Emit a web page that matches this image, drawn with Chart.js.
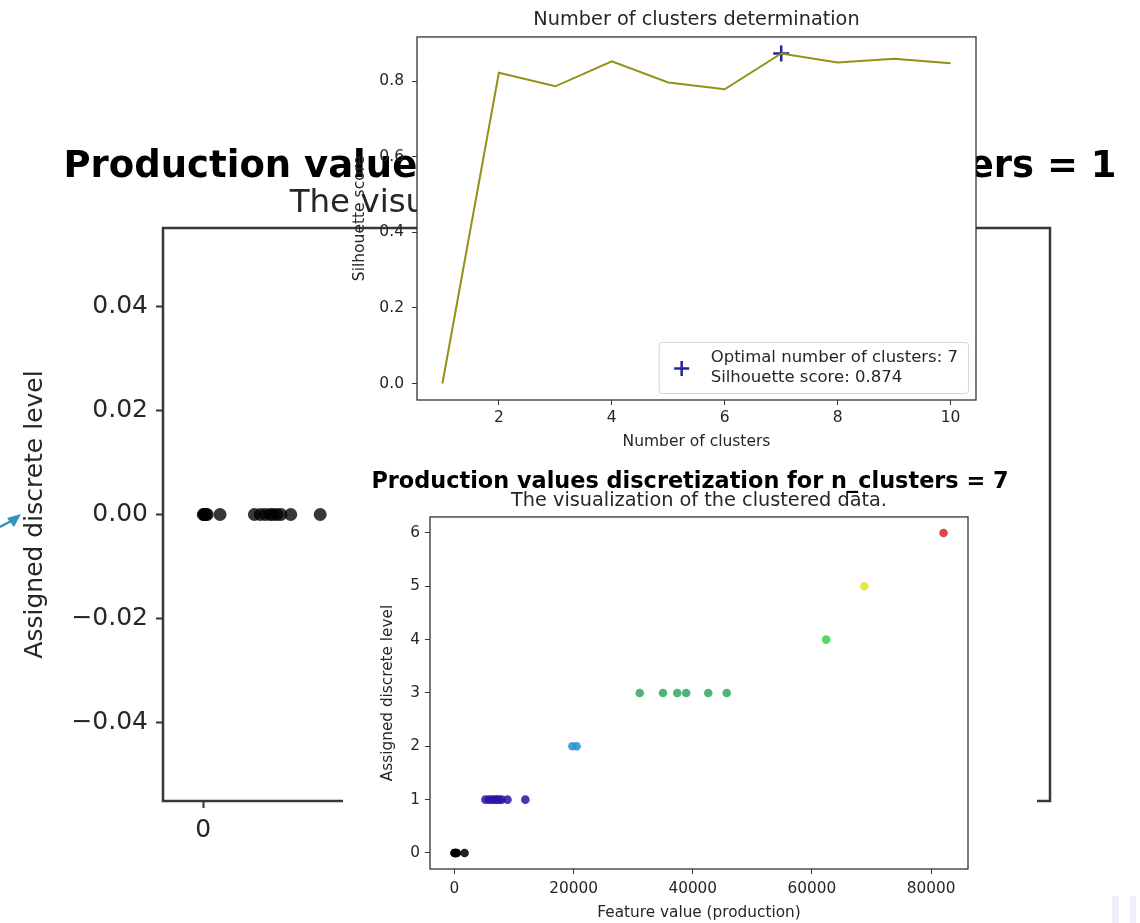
<!DOCTYPE html>
<html>
<head>
<meta charset="utf-8">
<title>Production values discretization</title>
<script src="https://cdn.jsdelivr.net/npm/chart.js@4.4.1/dist/chart.umd.min.js"></script>
<style>
	html, body { margin: 0; padding: 0; background: #fff; }
	body { position: relative; width: 1140px; height: 923px; overflow: hidden; }
	canvas, svg, .fade { position: absolute; }
	#flatChart { left: 0; top: 0; z-index: 1; }
	#levelChart { left: 343px; top: 455px; z-index: 2; background: #fff; }
	#scoreChart { left: 330px; top: 0; z-index: 3; }
	#pointer { left: 0; top: 508px; z-index: 4; }
	.fade { top: 896px; height: 27px; background: #eef2f8; }
</style>
</head>
<body>
<canvas id="flatChart" width="1180" height="923"></canvas>
<canvas id="levelChart" width="694" height="468"></canvas>
<canvas id="scoreChart" width="680" height="460"></canvas>
<svg id="pointer" width="24" height="22">
	<path d="M0 19 L11 13" stroke="#2f93bd" stroke-width="2.5" fill="none"/>
	<polygon points="21,6 7,10 14,19" fill="#2f93bd"/>
</svg>
<div class="fade" style="left:1112px;width:7px"></div>
<div class="fade" style="left:1130px;width:6px"></div>
<script>
// silhouette scan
const clusterCounts = [1, 2, 3, 4, 5, 6, 7, 8, 9, 10];
const silhouetteScores = [0.0, 0.823, 0.787, 0.853, 0.797, 0.779, 0.874, 0.850, 0.860, 0.848];
const optimalClusters = 7;
const optimalScore = 0.874;
const clusterTicks = [2, 4, 6, 8, 10];
const scoreTicks = [0.0, 0.2, 0.4, 0.6, 0.8];

// production values and the level each one was given (7 clusters)
const productionValues = [0, 60, 150, 260, 400, 1700, 5200, 5800, 6300, 6800, 7100, 7500, 7900, 8900, 11900,
	19800, 20500, 31100, 35000, 37400, 38900, 42600, 45700, 62400, 68800, 82100];
const assignedLevels = [0, 0, 0, 0, 0, 0, 1, 1, 1, 1, 1, 1, 1, 1, 1, 2, 2, 3, 3, 3, 3, 3, 3, 4, 5, 6];
const levelColors = ['#000000', '#3215a4', '#2a92d2', '#35a862', '#3cd63c', '#e6e22c', '#d42c2c'];
const productionTicks = [0, 20000, 40000, 60000, 80000];
const levelTicks = [0, 1, 2, 3, 4, 5, 6];
const flatTicks = [-0.04, -0.02, 0, 0.02, 0.04];

Chart.defaults.font.family = "'DejaVu Sans', sans-serif";
Chart.defaults.color = '#262626';

// white axes face + full box around the plot area
const framePlugin = {
	id: 'frame',
	beforeDraw(chart, args, opts) {
		if(!opts.face) return;
		const a = chart.chartArea;
		chart.ctx.save();
		chart.ctx.fillStyle = opts.face;
		chart.ctx.fillRect(a.left, a.top, a.width, a.height);
		chart.ctx.restore();
	},
	afterDatasetsDraw(chart, args, opts) {
		const a = chart.chartArea;
		const ctx = chart.ctx;
		ctx.save();
		ctx.strokeStyle = opts.color || '#333';
		ctx.lineWidth = opts.width || 1.3;
		ctx.strokeRect(a.left, a.top, a.width, a.height);
		ctx.restore();
	}
};

// matplotlib style legend in the lower right corner
const insetLegend = {
	id: 'insetLegend',
	afterDraw(chart, args, opts) {
		const ctx = chart.ctx;
		const a = chart.chartArea;
		ctx.save();
		ctx.font = opts.size + "px 'DejaVu Sans'";
		const tw = Math.max(...opts.lines.map(t => ctx.measureText(t).width));
		const lh = 20;
		const w = 52 + tw + 10;
		const h = lh * opts.lines.length + 11;
		const x = a.right - 8 - w;
		const y = a.bottom - 7 - h;
		ctx.fillStyle = 'rgba(255,255,255,0.85)';
		ctx.strokeStyle = '#d6d6d6';
		ctx.lineWidth = 1;
		ctx.beginPath();
		ctx.roundRect(x + 0.5, y + 0.5, w, h, 3);
		ctx.fill();
		ctx.stroke();
		const mx = x + 23, my = y + h / 2 + 1, r = 7.5;
		ctx.strokeStyle = opts.markerColor;
		ctx.lineWidth = 2.5;
		ctx.beginPath();
		ctx.moveTo(mx - r, my); ctx.lineTo(mx + r, my);
		ctx.moveTo(mx, my - r); ctx.lineTo(mx, my + r);
		ctx.stroke();
		ctx.fillStyle = '#262626';
		ctx.textBaseline = 'middle';
		opts.lines.forEach((t, i) => ctx.fillText(t, x + 52, y + 5.5 + lh * (i + 0.5)));
		ctx.restore();
	}
};

function fixedTicks(list) {
	return function(scale) {
		scale.ticks = list.map(v => ({value: v}));
	};
}

function tickGrid(len, width) {
	return {display: true, drawOnChartArea: false, drawTicks: true, tickLength: len, tickColor: '#333', tickWidth: width};
}

function spacer(w) {
	return {
		position: 'right', display: true,
		grid: {display: false}, border: {display: false}, ticks: {display: false},
		afterFit: s => { s.width = w; }
	};
}

// big background chart: n_clusters = 1
new Chart(document.getElementById('flatChart'), {
	type: 'scatter',
	data: {
		datasets: [{
			data: productionValues.map(v => ({x: v, y: 0})),
			pointRadius: 6.5,
			pointBackgroundColor: 'rgba(0,0,0,0.78)',
			pointBorderWidth: 0
		}]
	},
	options: {
		responsive: false,
		animation: false,
		layout: {padding: 0},
		plugins: {
			legend: {display: false},
			tooltip: {enabled: false},
			title: {
				display: true,
				text: 'Production values discretization for n_clusters = 1',
				color: '#000',
				font: {size: 37, weight: 'bold', lineHeight: 1},
				padding: {top: 148.5, bottom: 0}
			},
			subtitle: {
				display: true,
				fullSize: false,
				text: 'The visualization of the clustered data.',
				color: '#262626',
				font: {size: 32.5, lineHeight: 1},
				padding: {top: 2, bottom: 8}
			},
			frame: {color: '#383838', width: 2.5}
		},
		scales: {
			x: {
				type: 'linear',
				min: -4105,
				max: 86205,
				grid: tickGrid(7, 2),
				border: {display: false},
				ticks: {font: {size: 25}, padding: 7, maxRotation: 0, autoSkip: false, callback: v => String(v)},
				afterBuildTicks: fixedTicks(productionTicks),
				afterFit: s => { s.height = 122; }
			},
			y: {
				min: -0.055,
				max: 0.055,
				grid: tickGrid(7, 2),
				border: {display: false},
				ticks: {
					font: {size: 25},
					padding: 8,
					callback: v => (Math.abs(v) < 1e-9 ? 0 : v).toFixed(2).replace('-', '\u2212')
				},
				afterBuildTicks: fixedTicks(flatTicks),
				title: {display: true, text: 'Assigned discrete level', font: {size: 25}, padding: {top: 20, bottom: 0}},
				afterFit: s => { s.width = 163; }
			},
			y2: spacer(130)
		}
	},
	plugins: [framePlugin]
});

// lower inset: n_clusters = 7
new Chart(document.getElementById('levelChart'), {
	type: 'scatter',
	data: {
		datasets: [{
			data: productionValues.map((v, i) => ({x: v, y: assignedLevels[i]})),
			pointRadius: 4.3,
			pointBackgroundColor: assignedLevels.map(l => levelColors[l] + 'dd'),
			pointBorderWidth: 0
		}]
	},
	options: {
		responsive: false,
		animation: false,
		layout: {padding: 0},
		plugins: {
			legend: {display: false},
			tooltip: {enabled: false},
			title: {
				display: true,
				text: 'Production values discretization for n_clusters = 7',
				color: '#000',
				font: {size: 22.4, weight: 'bold', lineHeight: 0.9},
				padding: {top: 16.9, bottom: 0}
			},
			subtitle: {
				display: true,
				fullSize: false,
				text: 'The visualization of the clustered data.',
				color: '#262626',
				font: {size: 19.3, lineHeight: 0.9},
				padding: {top: 0.2, bottom: 7.3}
			},
			frame: {color: '#333', width: 1.3}
		},
		scales: {
			x: {
				type: 'linear',
				min: -4105,
				max: 86205,
				grid: tickGrid(5, 1),
				border: {display: false},
				ticks: {font: {size: 15.3}, padding: 6, maxRotation: 0, autoSkip: false, callback: v => String(v)},
				afterBuildTicks: fixedTicks(productionTicks),
				title: {display: true, text: 'Feature value (production)', font: {size: 15.3}, padding: {top: 0, bottom: 1}},
				afterFit: s => { s.height = 54; }
			},
			y: {
				min: -0.3,
				max: 6.3,
				grid: tickGrid(5, 1),
				border: {display: false},
				ticks: {font: {size: 15.3}, padding: 5, callback: v => String(v)},
				afterBuildTicks: fixedTicks(levelTicks),
				title: {display: true, text: 'Assigned discrete level', font: {size: 15.3}, padding: {top: 36, bottom: 0}},
				afterFit: s => { s.width = 87; }
			},
			y2: spacer(69)
		}
	},
	plugins: [framePlugin]
});

// upper inset: silhouette score per number of clusters
new Chart(document.getElementById('scoreChart'), {
	type: 'line',
	data: {
		datasets: [{
			data: clusterCounts.map((k, i) => ({x: k, y: silhouetteScores[i]})),
			borderColor: '#929214',
			borderWidth: 2,
			pointRadius: 0,
			tension: 0
		}, {
			type: 'scatter',
			data: [{x: optimalClusters, y: optimalScore}],
			showLine: false,
			pointStyle: 'cross',
			pointRadius: 8,
			pointBorderWidth: 2.5,
			pointBorderColor: '#25259a'
		}]
	},
	options: {
		responsive: false,
		animation: false,
		layout: {padding: {right: 34}},
		plugins: {
			legend: {display: false},
			tooltip: {enabled: false},
			title: {
				display: true,
				fullSize: false,
				text: 'Number of clusters determination',
				color: '#262626',
				font: {size: 19.3, weight: 'normal', lineHeight: 1},
				padding: {top: 10.6, bottom: 7.05}
			},
			frame: {face: '#fff', color: '#333', width: 1.3},
			insetLegend: {
				size: 16.5,
				markerColor: '#25259a',
				lines: ['Optimal number of clusters: ' + optimalClusters, 'Silhouette score: ' + optimalScore.toFixed(3)]
			}
		},
		scales: {
			x: {
				type: 'linear',
				min: 0.55,
				max: 10.45,
				grid: tickGrid(5, 1),
				border: {display: false},
				ticks: {font: {size: 15.5}, padding: 4, maxRotation: 0, autoSkip: false, callback: v => String(v)},
				afterBuildTicks: fixedTicks(clusterTicks),
				title: {display: true, text: 'Number of clusters', font: {size: 15.5}, padding: {top: 0, bottom: 8.4}},
				afterFit: s => { s.height = 60; }
			},
			y: {
				min: -0.0437,
				max: 0.9177,
				grid: tickGrid(5, 1),
				border: {display: false},
				ticks: {font: {size: 15.5}, padding: 8, callback: v => v.toFixed(1)},
				afterBuildTicks: fixedTicks(scoreTicks),
				title: {display: true, text: 'Silhouette score', font: {size: 15.5}, padding: {top: 20.7, bottom: 0}},
				afterFit: s => { s.width = 87; }
			}
		}
	},
	plugins: [framePlugin, insetLegend]
});
</script>
</body>
</html>
